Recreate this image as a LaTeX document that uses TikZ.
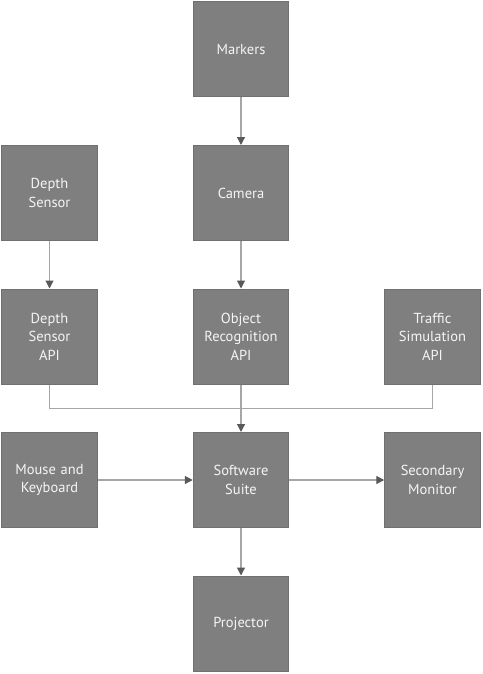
\documentclass[tikz,border=0pt]{standalone}
\usepackage{fontspec}
\setmainfont{PT Sans}
\usepackage{xcolor}
\usetikzlibrary{arrows.meta,positioning,calc}
\definecolor{boxgray} {RGB}{127,127,127}
\definecolor{edgegray}{RGB}{112,112,112}
\definecolor{linegray}{RGB}{166,166,166}
\definecolor{tipgray} {RGB}{89,89,89}
\definecolor{txtwhite}{RGB}{245,245,245}
\tikzset{
  unitbox/.style={draw=edgegray, fill=boxgray, line width=1pt, align=center,
                  minimum width=95.5pt, minimum height=95pt, text width=86pt,
                  font=\fontsize{14.5}{18.5}\selectfont, text=txtwhite,
                  inner sep=0pt},
  arr/.style    ={draw=linegray, line width=1.2pt,
                  -{Triangle[length=8pt,width=8pt,color=tipgray]}},
  ln/.style     ={draw=linegray, line width=1.2pt},
}

\begin{document}
\begin{tikzpicture}[x=1pt,y=-1pt,node distance=47.5pt and 95pt]
  \useasboundingbox (0,0) rectangle (482,674);
  \node[unitbox] (mk) at (241,49.5) {Markers};
  \node[unitbox, below=of mk] (cam) {Camera};
  \node[unitbox, left=of cam] (ds) {Depth\\Sensor};
  \node[unitbox, below=of cam] (ora) {Object\\Recognition\\API};
  \node[unitbox, below=of ds] (dsa) {Depth\\Sensor\\API};
  \node[unitbox, right=of ora] (tsa) {Traffic\\Simulation\\API};
  \node[unitbox, below=of ora] (sw) {Software\\Suite};
  \node[unitbox, left=of sw] (mkb) {Mouse and\\Keyboard};
  \node[unitbox, right=of sw] (mon) {Secondary\\Monitor};
  \node[unitbox, below=of sw] (proj) {Projector};
  \coordinate (jn) at ($(ora.south)!0.5!(sw.north)$);
  \draw[arr](mk)--(cam);
  \draw[arr](ds)--(dsa);
  \draw[arr](cam)--(ora);
  \draw[ln](dsa.south)|-(jn);
  \draw[ln](tsa.south)|-(jn);
  \draw[arr](ora)--(sw);
  \draw[arr](mkb)--(sw);
  \draw[arr](sw)--(mon);
  \draw[arr](sw)--(proj);
\end{tikzpicture}
\end{document}
